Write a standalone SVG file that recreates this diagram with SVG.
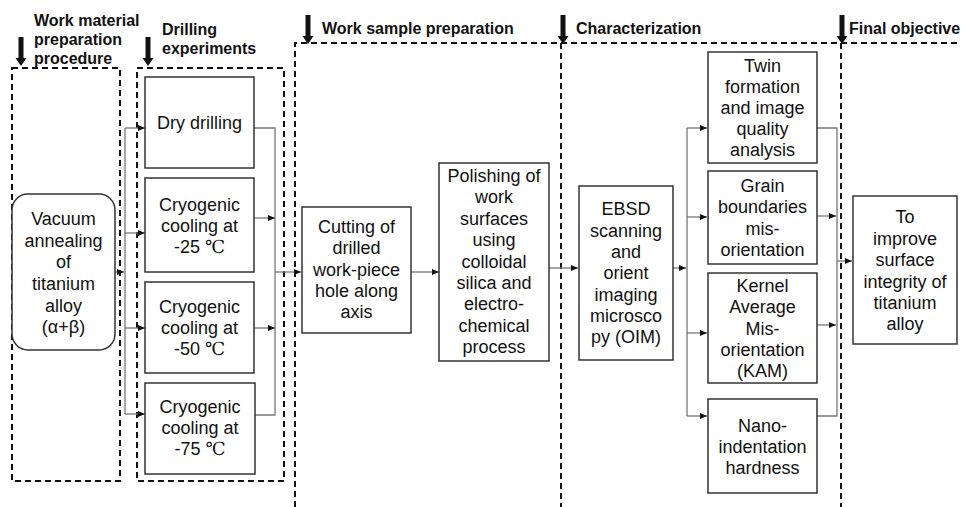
<svg xmlns="http://www.w3.org/2000/svg" width="961" height="507" viewBox="0 0 961 507">
<style>
.dash{fill:none;stroke:#111;stroke-width:2;stroke-dasharray:6 4}
.box{fill:#fff;stroke:#333;stroke-width:1.5}
.t{font-family:"Liberation Sans",Arial,sans-serif;font-size:18px;fill:#111;text-anchor:middle}
.h{font-family:"Liberation Sans",Arial,sans-serif;font-size:16px;font-weight:bold;fill:#111}
.c{fill:none;stroke:#777;stroke-width:1.3}
.deg{font-family:"Liberation Serif","DejaVu Serif",serif}
</style>
<defs>
<marker id="ah" markerWidth="8" markerHeight="8" refX="7" refY="4" orient="auto" markerUnits="userSpaceOnUse">
<path d="M0,1 L7,4 L0,7 Z" fill="#111"/>
</marker>
<path id="bigarrow" d="M-2.5,0 H2.5 V21 H5.5 L0,29 L-5.5,21 H-2.5 Z" fill="#111"/>
</defs>
<rect width="961" height="507" fill="#fff"/>

<!-- stage frames -->
<g id="stages">
<rect class="dash" x="12" y="68" width="108" height="413"/>
<rect class="dash" x="137" y="68" width="147" height="413"/>
<path class="dash" d="M295,507 V43 H961"/>
<path class="dash" d="M561,43 V507"/>
<path class="dash" d="M841,43 V507"/>
</g>

<!-- stage headings -->
<g id="headings">
<use href="#bigarrow" x="21" y="37"/>
<use href="#bigarrow" x="148" y="37"/>
<use href="#bigarrow" x="308" y="15"/>
<use href="#bigarrow" x="563" y="15"/>
<use href="#bigarrow" x="842" y="15"/>
<text class="h" x="34" y="26">Work material</text>
<text class="h" x="34" y="45">preparation</text>
<text class="h" x="34" y="64">procedure</text>
<text class="h" x="162" y="35">Drilling</text>
<text class="h" x="162" y="54">experiments</text>
<text class="h" x="322" y="34">Work sample preparation</text>
<text class="h" x="576" y="34">Characterization</text>
<text class="h" x="849" y="34">Final objective</text>
</g>

<!-- connectors -->
<g id="connectors">
<path class="c" d="M115,272 H124" marker-end="url(#ah)"/>
<path class="c" d="M125,128 V414"/>
<path class="c" d="M125,128 H145" marker-end="url(#ah)"/>
<path class="c" d="M125,233 H145" marker-end="url(#ah)"/>
<path class="c" d="M125,328 H145" marker-end="url(#ah)"/>
<path class="c" d="M125,414 H145" marker-end="url(#ah)"/>
<path class="c" d="M254,128 H275 V415 H254"/>
<path class="c" d="M254,218 H275" marker-end="url(#ah)"/>
<path class="c" d="M254,328 H275" marker-end="url(#ah)"/>
<path class="c" d="M275,272 H301" marker-end="url(#ah)"/>
<path class="c" d="M411,272 H439" marker-end="url(#ah)"/>
<path class="c" d="M549,268 H578" marker-end="url(#ah)"/>
<path class="c" d="M673,268 H686" marker-end="url(#ah)"/>
<path class="c" d="M687,128 V416"/>
<path class="c" d="M687,128 H707" marker-end="url(#ah)"/>
<path class="c" d="M687,217 H707" marker-end="url(#ah)"/>
<path class="c" d="M687,333 H707" marker-end="url(#ah)"/>
<path class="c" d="M687,416 H707" marker-end="url(#ah)"/>
<path class="c" d="M817,128 H837 V416 H817"/>
<path class="c" d="M817,216 H836" marker-end="url(#ah)"/>
<path class="c" d="M817,325 H836" marker-end="url(#ah)"/>
<path class="c" d="M837,261 H852" marker-end="url(#ah)"/>
</g>

<g id="vacuum">
<rect class="box" x="12" y="194" width="103" height="156" rx="16"/>
<text class="t" x="63.5" y="225">Vacuum</text>
<text class="t" x="63.5" y="247">annealing</text>
<text class="t" x="63.5" y="268">of</text>
<text class="t" x="63.5" y="290">titanium</text>
<text class="t" x="63.5" y="312">alloy</text>
<text class="t" x="63.5" y="333">(α+β)</text>
</g>

<g id="dry">
<rect class="box" x="145" y="77" width="109" height="91"/>
<text class="t" x="199.5" y="129">Dry drilling</text>
</g>

<g id="cryo25">
<rect class="box" x="145" y="178" width="109" height="94"/>
<text class="t" x="199.5" y="211">Cryogenic</text>
<text class="t" x="199.5" y="232">cooling at</text>
<text class="t" x="199.5" y="253">-25 <tspan class="deg">℃</tspan></text>
</g>

<g id="cryo50">
<rect class="box" x="145" y="282" width="109" height="91"/>
<text class="t" x="199.5" y="313">Cryogenic</text>
<text class="t" x="199.5" y="334">cooling at</text>
<text class="t" x="199.5" y="355">-50 <tspan class="deg">℃</tspan></text>
</g>

<g id="cryo75">
<rect class="box" x="145" y="383" width="110" height="91"/>
<text class="t" x="200" y="413">Cryogenic</text>
<text class="t" x="200" y="434">cooling at</text>
<text class="t" x="200" y="455">-75 <tspan class="deg">℃</tspan></text>
</g>

<g id="cutting">
<rect class="box" x="302" y="207" width="109" height="126"/>
<text class="t" x="356.5" y="233">Cutting of</text>
<text class="t" x="356.5" y="254">drilled</text>
<text class="t" x="356.5" y="276">work-piece</text>
<text class="t" x="356.5" y="297">hole along</text>
<text class="t" x="356.5" y="318">axis</text>
</g>

<g id="polishing">
<rect class="box" x="439" y="163" width="110" height="198"/>
<text class="t" x="494" y="182">Polishing of</text>
<text class="t" x="494" y="203">work</text>
<text class="t" x="494" y="225">surfaces</text>
<text class="t" x="494" y="246">using</text>
<text class="t" x="494" y="268">colloidal</text>
<text class="t" x="494" y="289">silica and</text>
<text class="t" x="494" y="310">electro-</text>
<text class="t" x="494" y="332">chemical</text>
<text class="t" x="494" y="353">process</text>
</g>

<g id="ebsd">
<rect class="box" x="579" y="186" width="94" height="174"/>
<text class="t" x="626" y="215">EBSD</text>
<text class="t" x="626" y="237">scanning</text>
<text class="t" x="626" y="258">and</text>
<text class="t" x="626" y="279">orient</text>
<text class="t" x="626" y="301">imaging</text>
<text class="t" x="626" y="322">microsco</text>
<text class="t" x="626" y="343">py (OIM)</text>
</g>

<g id="twin">
<rect class="box" x="708" y="52" width="109" height="111"/>
<text class="t" x="762.5" y="72">Twin</text>
<text class="t" x="762.5" y="93">formation</text>
<text class="t" x="762.5" y="114">and image</text>
<text class="t" x="762.5" y="135">quality</text>
<text class="t" x="762.5" y="156">analysis</text>
</g>

<g id="grain">
<rect class="box" x="708" y="171" width="109" height="93"/>
<text class="t" x="762.5" y="192">Grain</text>
<text class="t" x="762.5" y="213">boundaries</text>
<text class="t" x="762.5" y="235">mis-</text>
<text class="t" x="762.5" y="256">orientation</text>
</g>

<g id="kam">
<rect class="box" x="708" y="273" width="109" height="110"/>
<text class="t" x="762.5" y="292">Kernel</text>
<text class="t" x="762.5" y="313">Average</text>
<text class="t" x="762.5" y="335">Mis-</text>
<text class="t" x="762.5" y="356">orientation</text>
<text class="t" x="762.5" y="377">(KAM)</text>
</g>

<g id="nano">
<rect class="box" x="708" y="399" width="109" height="94"/>
<text class="t" x="762.5" y="432">Nano-</text>
<text class="t" x="762.5" y="453">indentation</text>
<text class="t" x="762.5" y="474">hardness</text>
</g>

<g id="objective">
<rect class="box" x="853" y="196" width="104" height="148"/>
<text class="t" x="905" y="223">To</text>
<text class="t" x="905" y="245">improve</text>
<text class="t" x="905" y="266">surface</text>
<text class="t" x="905" y="288">integrity of</text>
<text class="t" x="905" y="309">titanium</text>
<text class="t" x="905" y="330">alloy</text>
</g>
</svg>
